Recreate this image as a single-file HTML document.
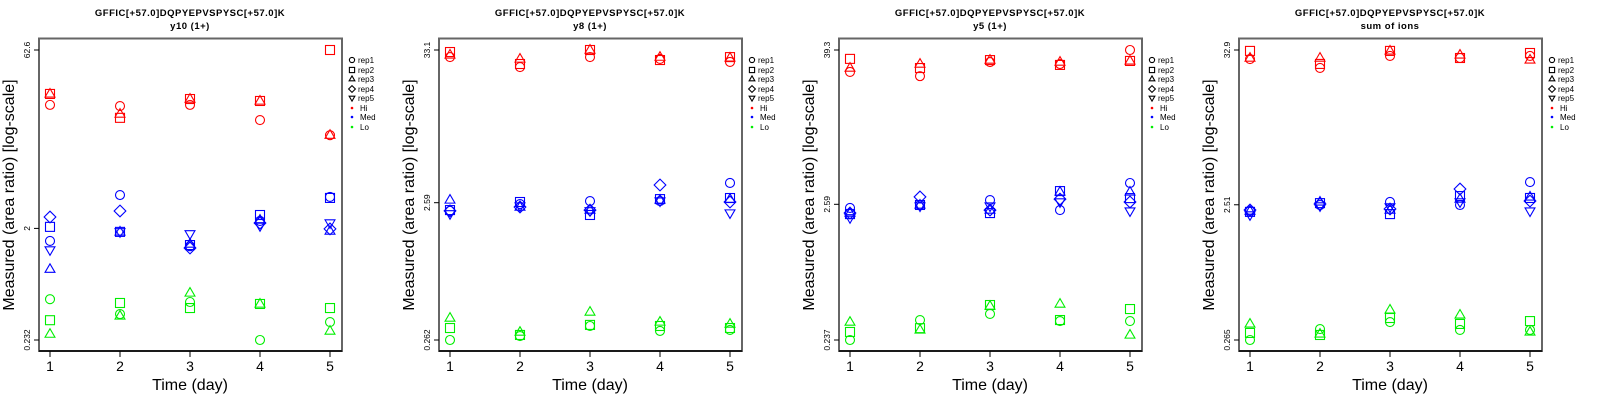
<!DOCTYPE html>
<html><head><meta charset="utf-8"><style>
html,body{margin:0;padding:0;background:#fff;}
svg{display:block;font-family:"Liberation Sans",sans-serif;}
</style></head><body>
<svg id="chart" width="1600" height="400" viewBox="0 0 1600 400" xmlns="http://www.w3.org/2000/svg"></svg>
<script>
const days = [1,2,3,4,5];
const titles = ["y10 (1+)","y8 (1+)","y5 (1+)","sum of ions"];
const peptide = "GFFIC[+57.0]DQPYEPVSPYSC[+57.0]K";
const yTicks1 = [0.232, 2, 62.6];
const yTicks2 = [0.262, 2.59, 33.1];
const yTicks3 = [0.237, 2.59, 39.3];
const yTicks4 = [0.265, 2.51, 32.9];
const yTickLabels1 = ["0.232","2","62.6"];
const yTickLabels2 = ["0.262","2.59","33.1"];
const yTickLabels3 = ["0.237","2.59","39.3"];
const yTickLabels4 = ["0.265","2.51","32.9"];
const repNames = ["rep1","rep2","rep3","rep4","rep5"];
const levelNames = ["Hi","Med","Lo"];

const p1Hi = [[21.7,26.8,26.8],[21.2,16.9,18.2],[21.7,24.3,24.3],[16.2,23.4,23.4],[12.1,62.6,12.1]];
const p1Med = [[1.57,2.06,0.91,2.49,1.32],[3.81,1.87,1.87,2.80,1.87],[1.42,1.45,1.48,1.37,1.80],[2.31,2.59,2.35,2.22,2.10],[3.67,3.60,1.90,1.98,2.22]];
const p1Lo = [[0.51,0.34,0.26],[0.383,0.474,0.369],[0.483,0.43,0.575],[0.232,0.465,0.465],[0.328,0.43,0.276]];

const p2Hi = [[29.4,32.0,30.5],[24.9,26.2,28.5],[29.4,33.1,33.1],[28.5,28.0,29.4],[27.1,29.4,29.0]];
const p2Med = [[2.26,2.29,2.71,2.26,2.15],[2.53,2.62,2.41,2.41,2.45],[2.66,2.11,2.29,2.29,2.26],[2.66,2.75,2.71,3.48,2.66],[3.60,2.80,2.75,2.62,2.18]];
const p2Lo = [[0.262,0.320,0.378],[0.280,0.285,0.299],[0.331,0.337,0.418],[0.305,0.331,0.354],[0.310,0.320,0.342]];

const p3Hi = [[26.7,33.6,28.6],[24.8,28.6,30.7],[31.8,32.9,32.9],[30.7,30.2,31.8],[39.3,32.4,32.4]];
const p3Med = [[2.43,2.18,2.22,2.22,2.04],[2.56,2.56,2.56,2.95,2.51],[2.79,2.22,2.34,2.34,2.51],[2.34,3.27,3.22,2.84,2.70],[3.77,2.89,3.22,2.70,2.30]];
const p3Lo = [[0.237,0.273,0.325],[0.337,0.292,0.283],[0.375,0.439,0.431],[0.331,0.337,0.447],[0.331,0.409,0.259]];

const p4Hi = [[28.3,32.4,28.8],[24.4,26.1,28.8],[29.8,32.4,32.4],[28.8,28.8,30.3],[29.8,31.3,27.9]];
const p4Med = [[2.26,2.23,2.26,2.30,2.12],[2.50,2.58,2.63,2.54,2.46],[2.63,2.15,2.30,2.34,2.42],[2.50,2.90,2.76,3.26,2.63],[3.66,2.81,2.86,2.67,2.26]];
const p4Lo = [[0.265,0.298,0.346],[0.318,0.288,0.293],[0.357,0.382,0.437],[0.313,0.346,0.402],[0.313,0.363,0.303]];

const panels = [
  {ticks:yTicks1, labels:yTickLabels1, hi:p1Hi, med:p1Med, lo:p1Lo},
  {ticks:yTicks2, labels:yTickLabels2, hi:p2Hi, med:p2Med, lo:p2Lo},
  {ticks:yTicks3, labels:yTickLabels3, hi:p3Hi, med:p3Med, lo:p3Lo},
  {ticks:yTicks4, labels:yTickLabels4, hi:p4Hi, med:p4Med, lo:p4Lo}
];
const colors = ["#ff0000","#0000ff","#00ee00"];
const NS = "http://www.w3.org/2000/svg";
const svg = document.getElementById("chart");
function mk(tag, attrs, parent, txt){
  const e = document.createElementNS(NS, tag);
  for (const k in attrs) e.setAttribute(k, attrs[k]);
  if (txt !== undefined) e.textContent = txt;
  parent.appendChild(e);
  return e;
}
function marker(g, shape, cx, cy, col, r){
  let e;
  if (shape === 0) e = mk("circle",{cx:cx,cy:cy,r:r,fill:"none",stroke:col,"stroke-width":1.1},g);
  else if (shape === 1) e = mk("rect",{x:cx-r,y:cy-r,width:2*r,height:2*r,fill:"none",stroke:col,"stroke-width":1.1},g);
  else if (shape === 2) e = mk("polygon",{points:`${cx},${cy-r*1.2} ${cx-r*1.1},${cy+r*0.7} ${cx+r*1.1},${cy+r*0.7}`,fill:"none",stroke:col,"stroke-width":1.1},g);
  else if (shape === 3) e = mk("polygon",{points:`${cx},${cy-r*1.3} ${cx+r*1.3},${cy} ${cx},${cy+r*1.3} ${cx-r*1.3},${cy}`,fill:"none",stroke:col,"stroke-width":1.1},g);
  else e = mk("polygon",{points:`${cx},${cy+r*1.2} ${cx-r*1.1},${cy-r*0.7} ${cx+r*1.1},${cy-r*0.7}`,fill:"none",stroke:col,"stroke-width":1.1},g);
  return e;
}
panels.forEach((p, pi) => {
  const ox = pi*400;
  const g = mk("g",{transform:`translate(${ox},0)`},svg);
  
  
  const lmin = Math.log10(p.ticks[0]), lmax = Math.log10(p.ticks[2]);
  const yS = v => 340 - (Math.log10(v) - lmin) / (lmax - lmin) * 290;
  const xS = d => 50 + (d - 1) * 70;
  const t1 = mk("text",{x:190,y:16,"text-anchor":"middle","font-size":9.5,"font-weight":"bold","letter-spacing":"0.5"},g,peptide);
  
  
  const t2 = mk("text",{x:190,y:29,"text-anchor":"middle","font-size":9.5,"font-weight":"bold","letter-spacing":"0.5"},g,titles[pi]);
  
  
  const fr = mk("rect",{x:39,y:38.5,width:303,height:312.5,fill:"none",stroke:"#666","stroke-width":2},g);
  
  
  mk("line",{x1:39,y1:351,x2:342,y2:351,stroke:"#000","stroke-width":1.5},g);
  days.forEach(d => {
    mk("line",{x1:xS(d),y1:351,x2:xS(d),y2:357,stroke:"#000"},g);
    const tl = mk("text",{x:xS(d),y:371,"text-anchor":"middle","font-size":14},g,String(d));
    
    
  });
  p.ticks.forEach((t, i) => {
    const y = yS(t);
    mk("line",{x1:34,y1:y,x2:39,y2:y,stroke:"#000"},g);
    const tl = mk("text",{x:0,y:0,"text-anchor":"middle","font-size":8.5,transform:`translate(30,${y}) rotate(-90)`},g,p.labels[i]);
    
    
  });
  const xl = mk("text",{x:190,y:390,"text-anchor":"middle","font-size":16},g,"Time (day)");
  
  
  const yl = mk("text",{x:0,y:0,"text-anchor":"middle","font-size":16,transform:"translate(14,195) rotate(-90)"},g,"Measured (area ratio) [log-scale]");
  
  
  [p.hi, p.med, p.lo].forEach((series, li) => {
    series.forEach((vals, di) => {
      vals.forEach((v, ri) => {
        if (v == null) return;
        const m = marker(g, ri, xS(days[di]), yS(v), colors[li], 4.5);
        
        
      });
    });
  });
  const lg = mk("g",{},g);
  
  
  const rows = [60,70,79,89,98,108,117,127];
  repNames.forEach((n, i) => {
    marker(lg, i, 352, rows[i], "#000", 2.6);
    const lt = mk("text",{x:358,y:rows[i]+3,"font-size":8},lg,n);
    
    
  });
  levelNames.forEach((n, i) => {
    mk("circle",{cx:352,cy:rows[5+i],r:1.3,fill:colors[i]},lg);
    const lt = mk("text",{x:360,y:rows[5+i]+3,"font-size":8},lg,n);
    
    
  });
});
</script>
</body></html>
